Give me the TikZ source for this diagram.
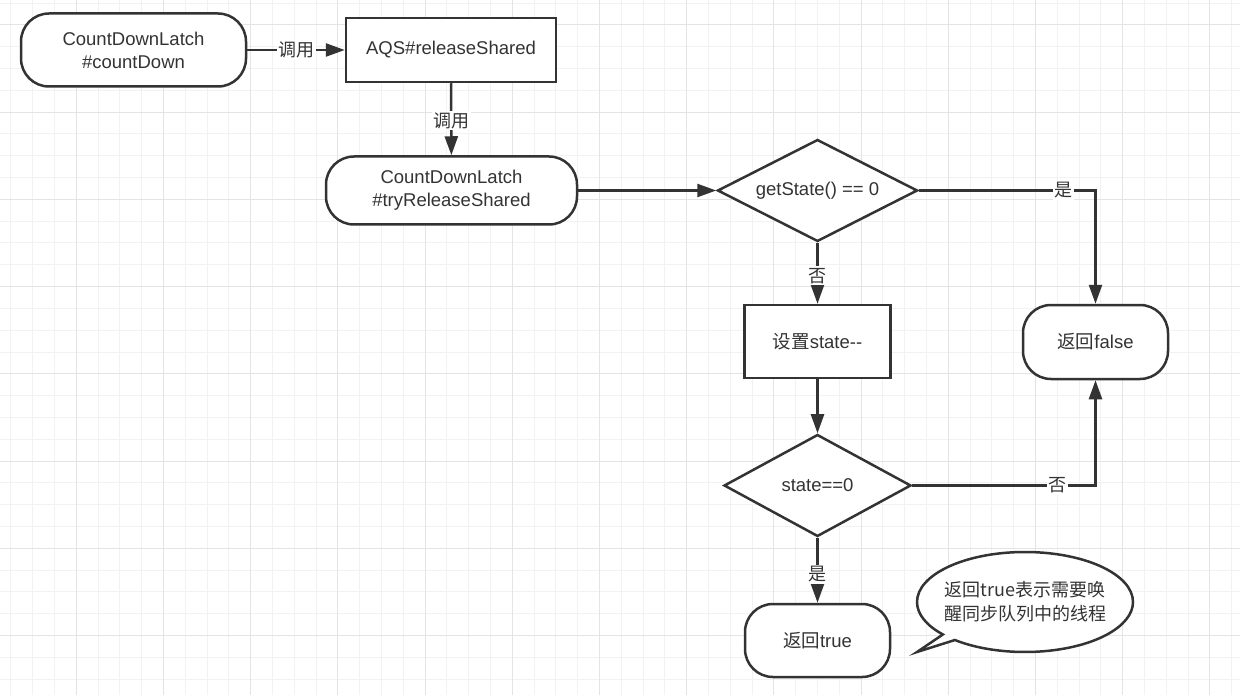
\documentclass[tikz,border=0pt]{standalone}
\usepackage{fontspec}
\setmainfont{Liberation Sans}
\newfontfamily\cjk{Noto Sans CJK SC}
\usetikzlibrary{arrows.meta,shapes.geometric,shapes.callouts}
\definecolor{ink}{HTML}{333333}
\definecolor{gminor}{HTML}{F2F2F2}
\definecolor{gmajor}{HTML}{E4E4E4}
\begin{document}
\begin{tikzpicture}[x=1pt,y=-1pt,
  every node/.style={text=ink, font=\fontsize{18.5}{23}\selectfont},
  box/.style={draw=ink, line width=2.5pt, fill=white, align=center, inner sep=0pt},
  term/.style={box, rounded corners=28pt},
  proc/.style={box},
  dec/.style={box, diamond, aspect=2},
  lbl/.style={fill=white, inner sep=1.5pt, font=\cjk\fontsize{18}{22}\selectfont},
  conn/.style={draw=ink, line width=2.5pt, -{Triangle[length=19pt,width=13pt]}}]
\useasboundingbox (0,0) rectangle (1240,695);
% grid
\foreach \i in {0,...,56} {\draw[gminor, line width=1pt] ({10.9+21.8*\i},0) -- ({10.9+21.8*\i},695);}
\foreach \j in {0,...,31} {\draw[gminor, line width=1pt] (0,{3.2+21.8*\j}) -- (1240,{3.2+21.8*\j});}
\foreach \i in {0,...,13} {\draw[gmajor, line width=1pt] ({76.3+87.2*\i},0) -- ({76.3+87.2*\i},695);}
\foreach \j in {0,...,7} {\draw[gmajor, line width=1pt] (0,{25+87.2*\j}) -- (1240,{25+87.2*\j});}
% nodes
\node[term, minimum width=225pt, minimum height=73pt] (cd) at (133.5,50) {CountDownLatch\\\#countDown};
\node[proc, minimum width=210pt, minimum height=64pt] (aqs) at (451,50) {AQS\#releaseShared};
\node[term, minimum width=251pt, minimum height=68pt] (try) at (451.5,190.5) {CountDownLatch\\\#tryReleaseShared};
\node[dec, minimum width=200pt, minimum height=102pt] (d1) at (817.5,190.5) {getState() == 0};
\node[proc, minimum width=146pt, minimum height=73pt] (set) at (817.5,341.5) {{\cjk 设置}state-{}-};
\node[term, minimum width=145pt, minimum height=74pt] (f) at (1095.5,342) {{\cjk 返回}false};
\node[dec, minimum width=187pt, minimum height=102pt] (d2) at (817.5,485.5) {state==0};
\node[term, minimum width=145pt, minimum height=73pt] (t) at (817.5,640.5) {{\cjk 返回}true};
\node[draw=ink, line width=2.5pt, fill=white, ellipse callout, minimum width=216pt, minimum height=100pt,
  callout absolute pointer={(917,652)}, callout pointer arc=9, align=center, inner xsep=-7pt, inner ysep=-3pt,
  font=\cjk\fontsize{18}{24}\selectfont] (note) at (1025,602) {返回true表示需要唤\\醒同步队列中的线程};
% connectors
\draw[conn] (cd) -- node[lbl, pos=0.5]{调用} (aqs);
\draw[conn] (aqs) -- node[lbl, pos=0.52]{调用} (try);
\draw[conn] (try) -- (d1);
\draw[conn] (d1) -- node[lbl, pos=0.54]{否} (set);
\draw[conn] (d1.east) -| node[lbl,pos=0.41]{是} (f);
\draw[conn] (set) -- (d2);
\draw[conn] (d2.east) -| node[lbl,pos=0.395]{否} (f);
\draw[conn] (d2) -- node[lbl,pos=0.56]{是} (t);
\end{tikzpicture}
\end{document}
